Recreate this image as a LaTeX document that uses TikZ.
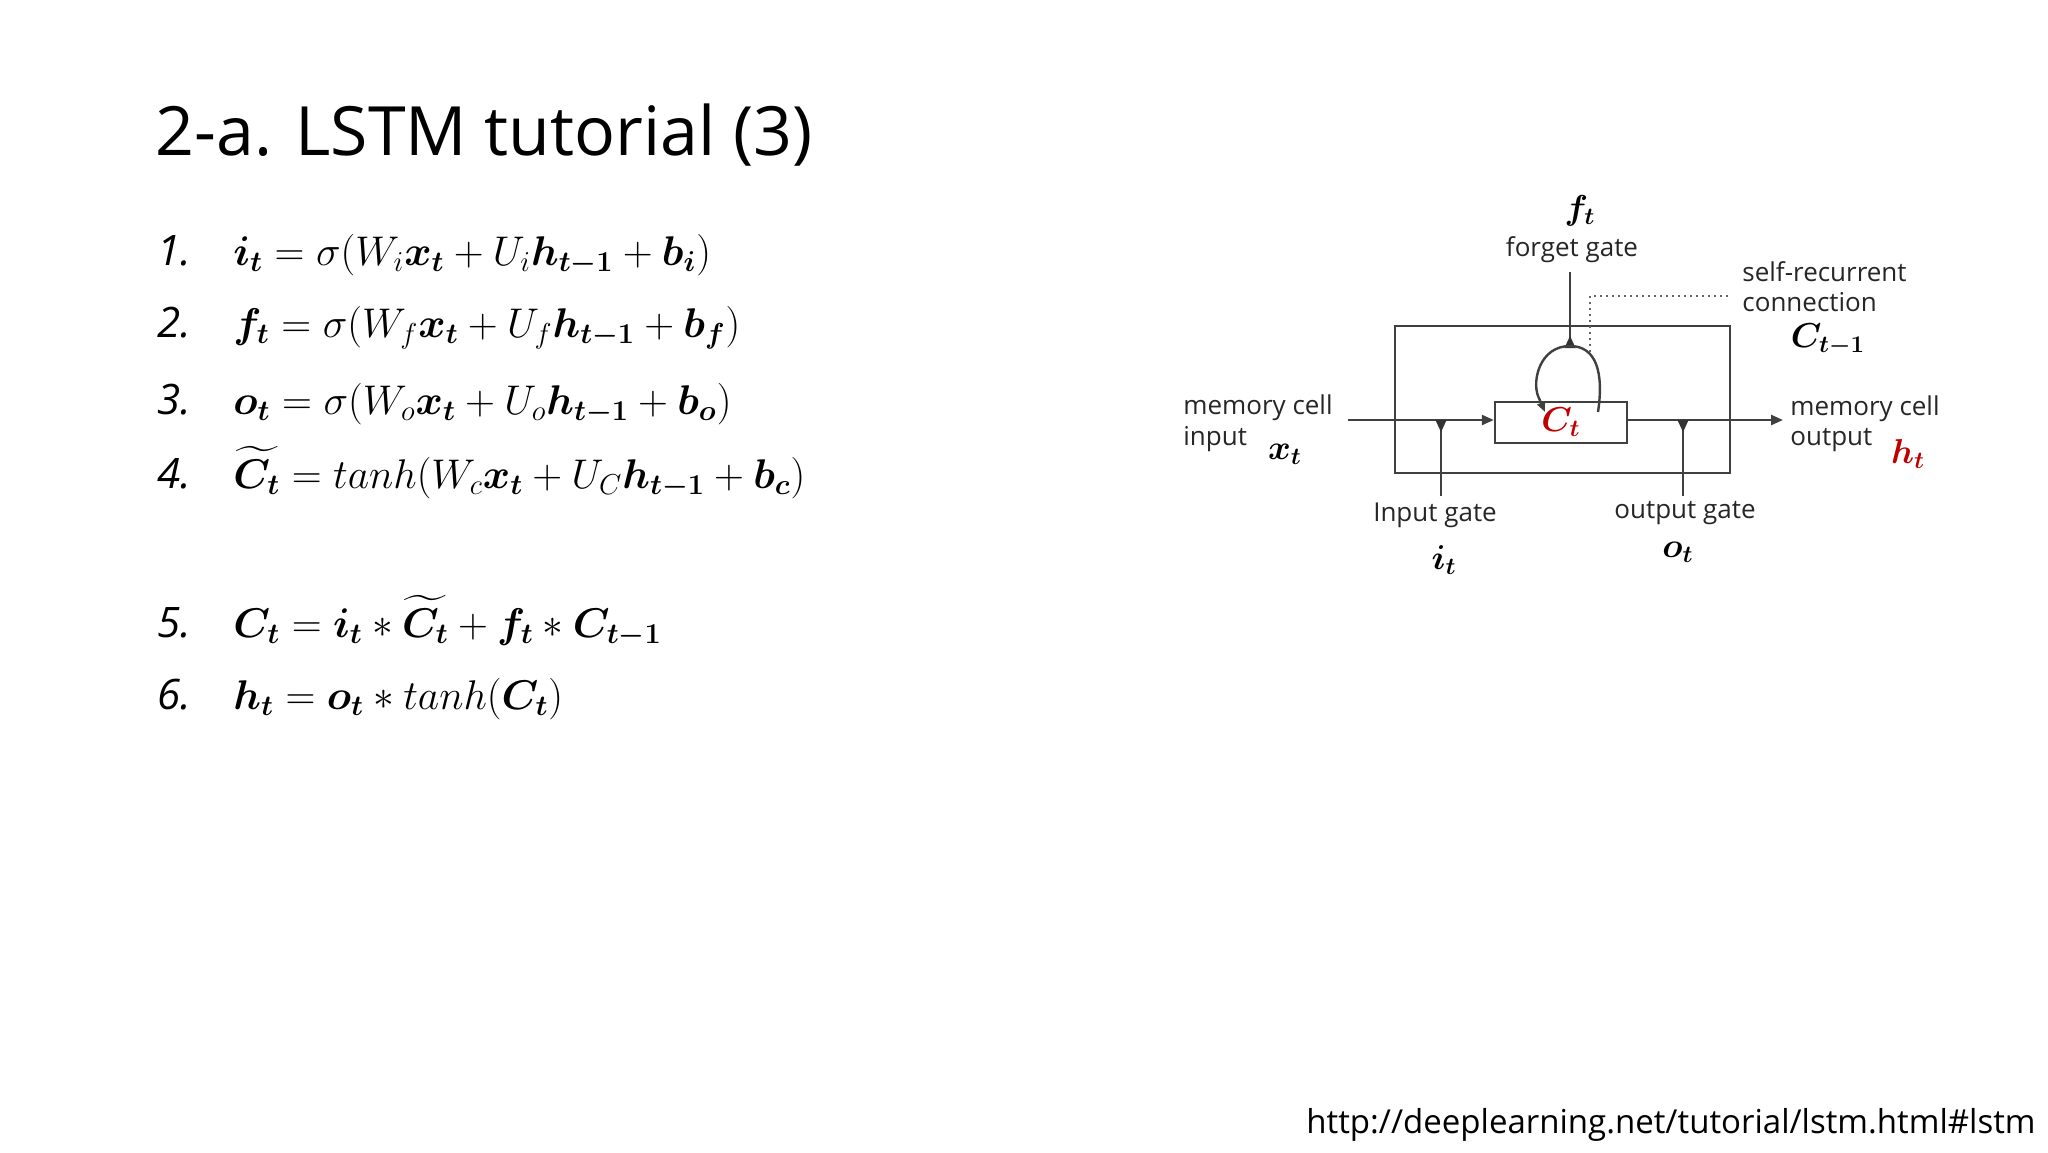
\documentclass[tikz,border=0pt]{standalone}
\usepackage{amsmath,bm}
\usepackage{fontspec}
\setmainfont{Open Sans}
\usetikzlibrary{arrows.meta}
\definecolor{dred}{RGB}{192,0,0}
\tikzset{
 gl/.style={draw=black!75,line width=1.2pt},
 lbl/.style={font=\fontsize{13}{15}\selectfont,text=black!85,inner sep=0pt},
 mth/.style={font=\fontsize{18}{20}\selectfont,inner sep=0pt},
 eq/.style={font=\fontsize{21}{24}\selectfont,anchor=base west,inner sep=0pt},
 tri/.style={-{Triangle[length=6pt,width=5pt]}},
}
\begin{document}
\begin{tikzpicture}[x=0.5pt,y=-0.5pt]
\useasboundingbox (0,0) rectangle (2048,1152);
\node[anchor=base west,inner sep=0pt,font=\fontsize{34}{38}\selectfont] (title) at (155,155) {2-a. LSTM tutorial (3)};
\node[eq] (n1) at (157,265) {\textit{1.}};
\node[eq] (e1) at (233,265) {$\bm{i_t}=\sigma(W_i\bm{x_t}+U_i\bm{h_{t-1}}+\bm{b_i})$};
\node[eq] (n2) at (157,337) {\textit{2.}};
\node[eq] (e2) at (233,337) {$\bm{f_t}=\sigma(W_f\bm{x_t}+U_f\bm{h_{t-1}}+\bm{b_f})$};
\node[eq] (n3) at (157,414) {\textit{3.}};
\node[eq] (e3) at (233,414) {$\bm{o_t}=\sigma(W_o\bm{x_t}+U_o\bm{h_{t-1}}+\bm{b_o})$};
\node[eq] (n4) at (157,488) {\textit{4.}};
\node[eq] (e4) at (233,488) {$\widetilde{\bm{C_t}}=tanh(W_c\bm{x_t}+U_C\bm{h_{t-1}}+\bm{b_c})$};
\node[eq] (n5) at (157,637) {\textit{5.}};
\node[eq] (e5) at (233,637) {$\bm{C_t}=\bm{i_t}*\widetilde{\bm{C_t}}+\bm{f_t}*\bm{C_{t-1}}$};
\node[eq] (n6) at (157,709) {\textit{6.}};
\node[eq] (e6) at (233,709) {$\bm{h_t}=\bm{o_t}*tanh(\bm{C_t})$};
% diagram
\node[gl,draw,minimum width=167.5pt,minimum height=73.5pt,inner sep=0pt] (outer) at (1562.5,399.5) {};
\node[gl,draw,minimum width=66pt,minimum height=20.5pt,inner sep=0pt,font=\fontsize{18}{20}\selectfont,text=dred] (cell) at (1561,422.5) {$\bm{C_t}$};
\coordinate (inl) at (1348,420);
\coordinate (outr) at (1783,420);
\coordinate (ig) at (1441,496);
\coordinate (igj) at (1441,420);
\coordinate (og) at (1683,496);
\coordinate (ogj) at (1683,420);
\coordinate (fg) at (1570,272);
\coordinate (ftop) at (1570,346);
\draw[gl,tri] (inl) -- (cell.west |- inl);
\draw[gl,tri] (cell.east |- outr) -- (outr);
\draw[gl] (ig) -- (igj);
\fill[black!80] ([xshift=-2.8pt]igj) -- ([xshift=2.8pt]igj) -- ([yshift=-6pt]igj) -- cycle;
\draw[gl] (og) -- (ogj);
\fill[black!80] ([xshift=-2.8pt]ogj) -- ([xshift=2.8pt]ogj) -- ([yshift=-6pt]ogj) -- cycle;
\draw[gl] (fg) -- (ftop);
\fill[black!80] ([xshift=-2.8pt,yshift=-1pt]ftop) -- ([xshift=2.8pt,yshift=-1pt]ftop) -- ([yshift=5pt]ftop) -- cycle;
\draw[gl] (1598,412) .. controls (1604,372) and (1596,346) .. (ftop) .. controls (1540,346) and (1532,380) .. (1538,396);
\draw[gl,-{Triangle[length=5pt,width=4pt]}] (1538,396) -- (1545,412);
\draw[draw=black!60,dotted,line width=1pt] (1590,352) -- (1590,296) -- (1730,296);
\node[mth] (ft) at (1580,211) {$\bm{f_t}$};
\node[lbl] (fgl) at (1572,250) {forget gate};
\node[lbl,anchor=west] (sr) at (1742,272) {self-recurrent};
\node[lbl,anchor=west] (cn) at (1742,302) {connection};
\node[mth] (ctm) at (1828,340) {$\bm{C_{t-1}}$};
\node[lbl,anchor=west] (mci) at (1183,408) {memory cell};
\node[lbl,anchor=west] (inp) at (1183,439) {input};
\node[mth] (xt) at (1285,454) {$\bm{x_t}$};
\node[lbl,anchor=west] (mco) at (1790,409) {memory cell};
\node[lbl,anchor=west] (outp) at (1790,440) {output};
\node[mth,text=dred] (ht) at (1908,454) {$\bm{h_t}$};
\node[lbl] (igl) at (1435,515) {Input gate};
\node[mth] (it) at (1444,560) {$\bm{i_t}$};
\node[lbl] (ogl) at (1685,513) {output gate};
\node[mth] (ot) at (1678,552) {$\bm{o_t}$};
\node[anchor=base east,inner sep=0pt,font=\fontsize{16.5}{20}\selectfont] (url) at (2036,1133) {http://deeplearning.net/tutorial/lstm.html\#lstm};
\end{tikzpicture}
\end{document}
